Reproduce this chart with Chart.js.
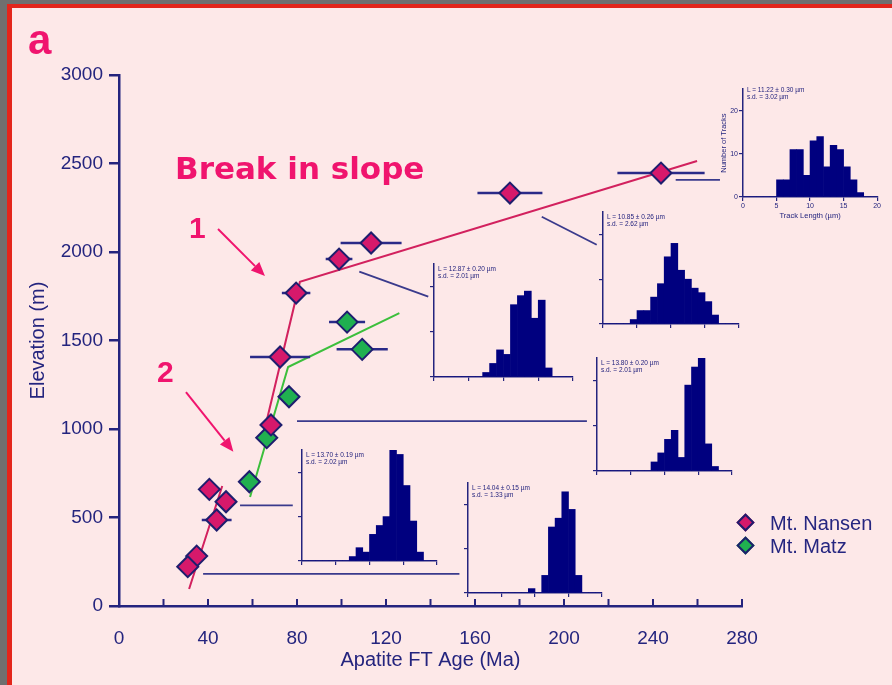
<!DOCTYPE html>
<html>
<head>
<meta charset="utf-8">
<script src="https://cdn.jsdelivr.net/npm/chart.js@4.4.1/dist/chart.umd.min.js"></script>
<style>
  html, body { margin: 0; padding: 0; }
  body { width: 892px; height: 685px; background: #6f6f6f; position: relative; overflow: hidden;
         font-family: "Liberation Sans", Arial, sans-serif; }
  #frame { position: absolute; left: 7px; top: 4px; width: 900px; height: 700px; background: #fde8e8;
           border-left: 5px solid #e3251b; border-top: 4px solid #e3251b; }
  canvas { position: absolute; }
  .lbl { position: absolute; white-space: nowrap; color: #f0146e; font-weight: bold; line-height: 1; }
  .htxt { position: absolute; font-size: 6.5px; line-height: 6.5px; color: #1c1c7a; white-space: nowrap; }
  .leg { position: absolute; left: 770px; font-size: 20px; line-height: 1; color: #262680; white-space: nowrap; }
  .dia { position: absolute; width: 9px; height: 9px; transform: rotate(45deg); border: 2px solid #1e1e6e; }
</style>
</head>
<body>
<div id="frame"></div>
<canvas id="main" width="892" height="685" style="left:0;top:0"></canvas>

<div class="lbl" style="left:28px;top:19px;font-size:42px;">a</div>
<div class="lbl" style="left:175px;top:153px;font-size:31px;font-family:'DejaVu Sans';">Break in slope</div>
<div class="lbl" style="left:189px;top:213px;font-size:30px;">1</div>
<div class="lbl" style="left:157px;top:357px;font-size:30px;">2</div>

<div class="dia" style="left:739px;top:516px;background:#d6196b;"></div>
<div class="leg" style="top:513px;">Mt. Nansen</div>
<div class="dia" style="left:739px;top:539px;background:#20b050;"></div>
<div class="leg" style="top:536px;">Mt. Matz</div>

<script>
// Mt. Nansen: apatite FT age (Ma), elevation (m), age error (Ma)
const nansenAge  = [243.6, 175.7, 113.3, 98.9, 79.6, 72.4, 68.3, 48.1, 40.6, 43.9, 34.9, 30.9];
const nansenElev = [2446, 2333, 2051, 1960, 1768, 1407, 1023, 589, 659, 486, 282, 222];
const nansenErr  = [19.6, 14.6, 13.7, 6.0, 6.4, 13.5, 4.5, 0, 0, 6.7, 0, 0];

// Mt. Matz
const matzAge  = [102.5, 109.3, 76.4, 66.4, 58.6];
const matzElev = [1604, 1450, 1182, 951, 702];
const matzErr  = [8.1, 11.5, 0, 0, 0];

// fitted lines [age, elevation]
const nansenFitLower = [[31.5, 96], [46.4, 678]];
const nansenFitUpper = [[64.3, 938], [81.3, 1831], [259.8, 2514]];
const matzFit = [[58.9, 616], [76.0, 1350], [126, 1655]];

// leader lines from samples to their histograms
const leaders = [
  [[250.2, 2407], [270.1, 2407]],
  [[190, 2199], [214.7, 2041]],
  [[108, 1889], [139, 1748]],
  [[80, 1045], [210.3, 1045]],
  [[54.4, 568], [78.1, 568]],
  [[37.8, 181], [153, 181]]
];

// "1" and "2" arrows [from, to]
const arrows = [
  [[44.5, 2130], [65.6, 1864]],
  [[30.1, 1209], [51.4, 872]]
];

// track length histograms (1 µm bins, 0-20 µm)
const binCentres = [0.5, 1.5, 2.5, 3.5, 4.5, 5.5, 6.5, 7.5, 8.5, 9.5, 10.5, 11.5, 12.5, 13.5, 14.5, 15.5, 16.5, 17.5, 18.5, 19.5];
const histA = [0, 0, 0, 0, 0, 4, 4, 11, 11, 5, 13, 14, 7, 12, 11, 7, 4, 1, 0, 0];
const histB = [0, 0, 0, 0, 1, 3, 3, 6, 9, 15, 18, 12, 10, 8, 7, 5, 2, 0, 0, 0];
const histC = [0, 0, 0, 0, 0, 0, 0, 1, 3, 6, 5, 16, 18, 19, 13, 17, 2, 0, 0, 0];
const histD = [0, 0, 0, 0, 0, 0, 0, 0, 2, 4, 7, 9, 3, 19, 23, 25, 6, 1, 0, 0];
const histE = [0, 0, 0, 0, 0, 0, 0, 1, 3, 2, 6, 8, 10, 25, 24, 17, 9, 2, 0, 0];
const histF = [0, 0, 0, 0, 0, 0, 0, 0, 0, 1, 0, 4, 15, 17, 23, 19, 4, 0, 0, 0];
const histMean = ['11.22 ± 0.30', '10.85 ± 0.26', '12.87 ± 0.20', '13.80 ± 0.20', '13.70 ± 0.19', '14.04 ± 0.15'];
const histSd   = ['3.02', '2.62', '2.01', '2.01', '2.02', '1.33'];

const NAVY = '#24247e';
const FONT = '"Liberation Sans", Arial, sans-serif';

function toPts(segs) {
  const out = [];
  segs.forEach(seg => {
    seg.forEach(p => out.push({ x: p[0], y: p[1] }));
    out.push({ x: seg[seg.length - 1][0], y: null });
  });
  return out;
}

function errSegs(age, elev, err) {
  const segs = [];
  age.forEach((a, i) => {
    if (err[i] > 0) segs.push([[a - err[i], elev[i]], [a + err[i], elev[i]]]);
  });
  return segs;
}

const lineDs = (segs, color, width, order) => ({
  type: 'scatter', data: toPts(segs), showLine: true, spanGaps: false,
  borderColor: color, borderWidth: width, pointRadius: 0, order: order
});

const upTicks = {
  id: 'upTicks',
  afterDraw(chart) {
    const { ctx, scales: { x, y } } = chart;
    ctx.save();
    ctx.strokeStyle = NAVY;
    ctx.lineWidth = 2;
    x.ticks.forEach(t => {
      const px = x.getPixelForValue(t.value);
      ctx.beginPath();
      ctx.moveTo(px, x.top);
      ctx.lineTo(px, x.top - 7);
      ctx.stroke();
    });
    // arrows
    ctx.strokeStyle = '#f0146e';
    ctx.fillStyle = '#f0146e';
    ctx.lineWidth = 2;
    arrows.forEach(a => {
      const x0 = x.getPixelForValue(a[0][0]), y0 = y.getPixelForValue(a[0][1]);
      const x1 = x.getPixelForValue(a[1][0]), y1 = y.getPixelForValue(a[1][1]);
      const ang = Math.atan2(y1 - y0, x1 - x0);
      const hl = 14, hw = 6;
      const bx = x1 - hl * Math.cos(ang), by = y1 - hl * Math.sin(ang);
      ctx.beginPath();
      ctx.moveTo(x0, y0);
      ctx.lineTo(bx, by);
      ctx.stroke();
      ctx.beginPath();
      ctx.moveTo(x1, y1);
      ctx.lineTo(bx + hw * Math.sin(ang), by - hw * Math.cos(ang));
      ctx.lineTo(bx - hw * Math.sin(ang), by + hw * Math.cos(ang));
      ctx.closePath();
      ctx.fill();
    });
    ctx.restore();
  }
};

new Chart(document.getElementById('main'), {
  type: 'scatter',
  data: {
    datasets: [
      {
        label: 'Mt. Nansen',
        data: nansenAge.map((a, i) => ({ x: a, y: nansenElev[i] })),
        pointStyle: 'rectRot', pointRadius: 10.5, backgroundColor: '#d6196b',
        borderColor: '#1e1e6e', borderWidth: 2, order: 0
      },
      {
        label: 'Mt. Matz',
        data: matzAge.map((a, i) => ({ x: a, y: matzElev[i] })),
        pointStyle: 'rectRot', pointRadius: 10.5, backgroundColor: '#20b050',
        borderColor: '#1e1e6e', borderWidth: 2, order: 0
      },
      lineDs(errSegs(nansenAge, nansenElev, nansenErr).concat(errSegs(matzAge, matzElev, matzErr)), '#2a2a88', 2.5, 2),
      lineDs([nansenFitLower, nansenFitUpper], '#d2215e', 2, 3),
      lineDs([matzFit], '#3cbf3c', 2, 3),
      lineDs(leaders, '#3a3a8c', 1.8, 4)
    ]
  },
  options: {
    responsive: false,
    animation: false,
    events: [],
    layout: { padding: { top: 75, right: 150, left: 0, bottom: 0 } },
    plugins: { legend: { display: false }, tooltip: { enabled: false } },
    scales: {
      x: {
        type: 'linear', min: 0, max: 280,
        ticks: {
          stepSize: 20, autoSkip: false, maxRotation: 0, color: NAVY, padding: 13,
          font: { family: FONT, size: 19 },
          callback: v => (v % 40 === 0 ? String(v) : '')
        },
        grid: { display: false },
        border: { color: NAVY, width: 2.5 },
        title: { display: true, text: 'Apatite FT Age (Ma)', color: NAVY, font: { family: FONT, size: 20 }, padding: { bottom: 13, top: 0 } },
        afterFit: s => { s.height = 79; }
      },
      y: {
        min: 0, max: 3000,
        ticks: { stepSize: 500, color: NAVY, padding: 6, font: { family: FONT, size: 19 }, callback: v => String(v) },
        grid: { drawOnChartArea: false, color: NAVY, lineWidth: 2.5, tickLength: 10 },
        border: { color: NAVY, width: 2.5 },
        title: { display: true, text: 'Elevation (m)', color: NAVY, font: { family: FONT, size: 20 }, padding: { top: 26, bottom: 0 } },
        afterFit: s => { s.width = 119; }
      }
    }
  },
  plugins: [upTicks]
});

// inset histograms: plot box [left, top, width, height] in page px
const insets = [
  { counts: histA, box: [743, 85, 136, 112], labelled: true },
  { counts: histB, box: [603, 212, 136, 112] },
  { counts: histC, box: [434, 264, 139, 113] },
  { counts: histD, box: [597, 358, 135, 113] },
  { counts: histE, box: [302, 450, 135, 111] },
  { counts: histF, box: [468, 483, 134, 110] }
];

insets.forEach((ins, k) => {
  const [bx, by, bw, bh] = ins.box;
  const lab = !!ins.labelled;
  const padL = lab ? 26 : 6, padB = lab ? 26 : 6, padT = 1, padR = 3;
  const cv = document.createElement('canvas');
  cv.width = bw + padL + padR;
  cv.height = bh + padT + padB;
  cv.style.left = (bx - padL) + 'px';
  cv.style.top = (by - padT) + 'px';
  document.body.appendChild(cv);

  const txt = document.createElement('div');
  txt.className = 'htxt';
  txt.style.left = (bx + 4) + 'px';
  txt.style.top = (by + 2) + 'px';
  txt.innerHTML = 'L = ' + histMean[k] + ' µm<br>s.d. = ' + histSd[k] + ' µm';
  document.body.appendChild(txt);

  new Chart(cv, {
    type: 'bar',
    data: {
      datasets: [{
        data: binCentres.map((c, i) => ({ x: c, y: ins.counts[i] })),
        backgroundColor: '#00007f', borderColor: '#00007f', borderWidth: 0,
        barPercentage: 1, categoryPercentage: 1
      }]
    },
    options: {
      responsive: false,
      animation: false,
      events: [],
      layout: { padding: { top: padT, right: padR, left: 0, bottom: 0 } },
      plugins: { legend: { display: false }, tooltip: { enabled: false } },
      scales: {
        x: {
          type: 'linear', min: 0, max: 20, offset: false,
          ticks: { stepSize: 5, display: lab, color: NAVY, padding: 1, font: { family: FONT, size: 7 } },
          grid: { offset: false, drawOnChartArea: false, color: NAVY, tickLength: 4, lineWidth: 1.2 },
          border: { color: NAVY, width: 1.5 },
          title: { display: lab, text: 'Track Length (µm)', color: NAVY, font: { family: FONT, size: 7.5 }, padding: { top: 0, bottom: 3 } },
          afterFit: s => { s.height = padB; }
        },
        y: {
          min: 0, max: 25,
          afterBuildTicks: s => { s.ticks = s.ticks.filter(t => t.value <= 20); },
          ticks: { stepSize: 10, display: lab, color: NAVY, padding: 1, font: { family: FONT, size: 7 } },
          grid: { drawOnChartArea: false, color: NAVY, tickLength: 4, lineWidth: 1.2 },
          border: { color: NAVY, width: 1.5 },
          title: { display: lab, text: 'Number of Tracks', color: NAVY, font: { family: FONT, size: 7.5 }, padding: { top: 2, bottom: 0 } },
          afterFit: s => { s.width = padL; }
        }
      }
    }
  });
});
</script>
</body>
</html>
